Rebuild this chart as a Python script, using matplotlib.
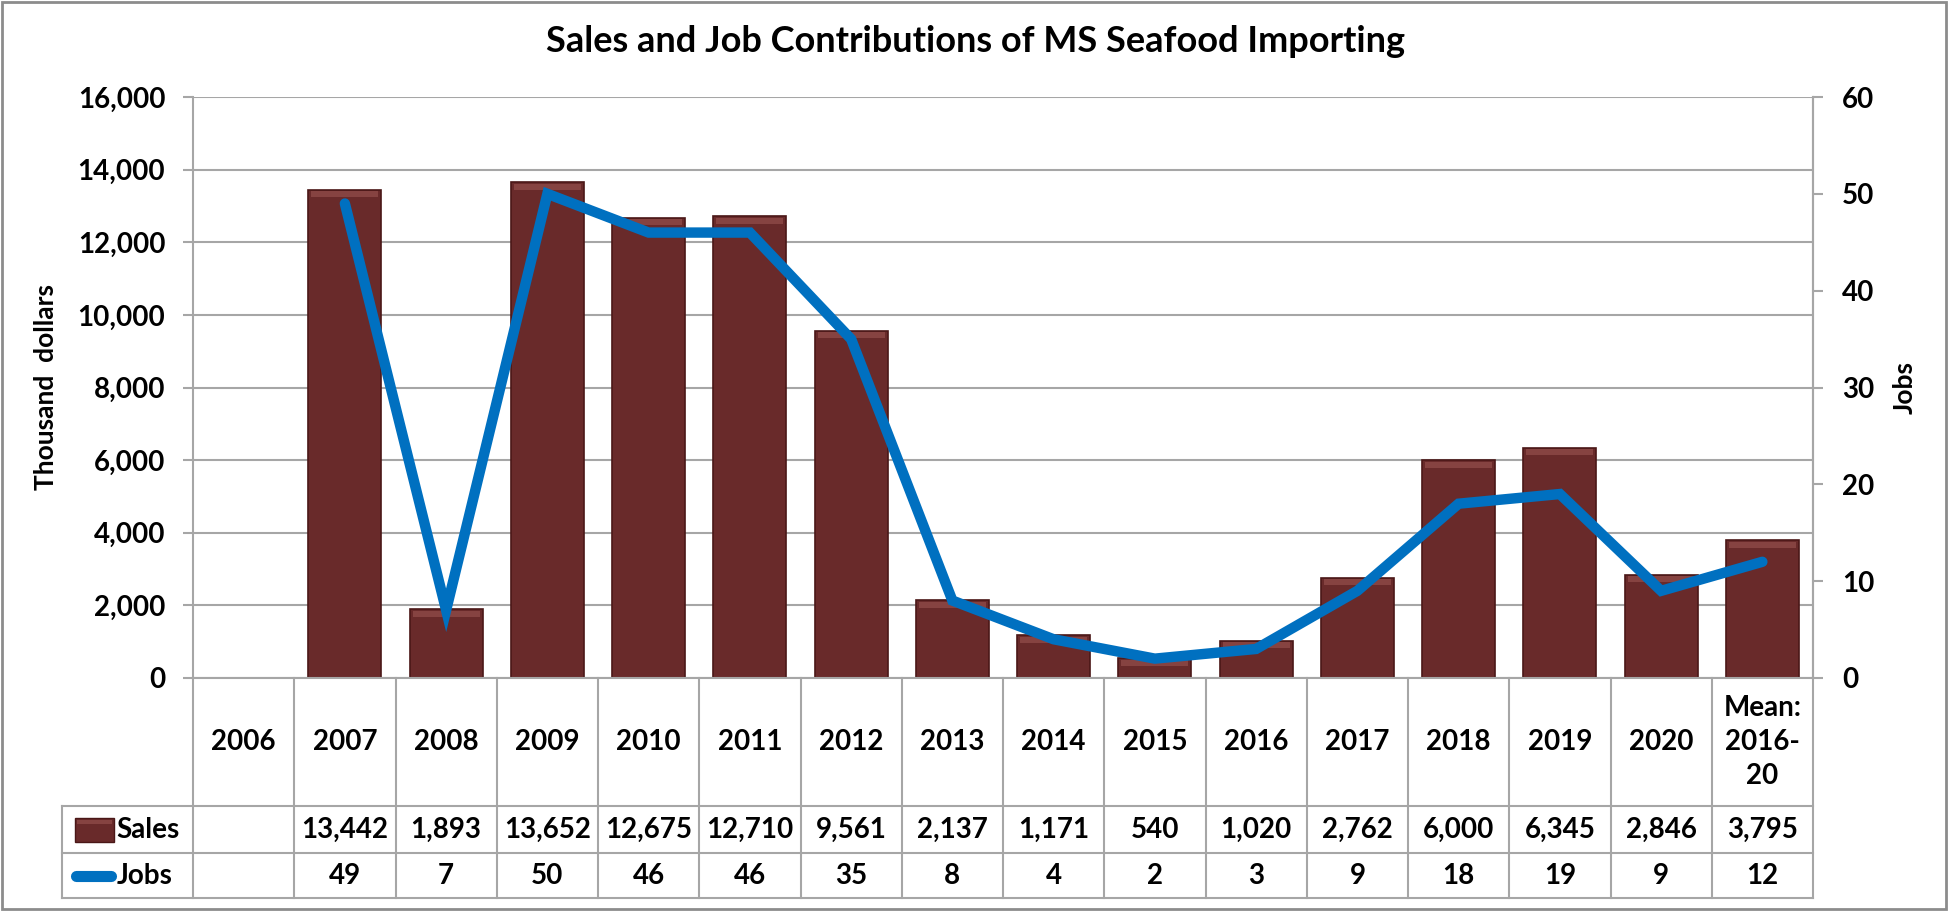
import numpy as np
import matplotlib
matplotlib.use("Agg")
import matplotlib.pyplot as plt
from matplotlib.patches import Rectangle
from matplotlib.lines import Line2D

plt.rcParams['font.family'] = ['Lato', 'DejaVu Sans']
plt.rcParams['font.weight'] = 'bold'

categories = ['2006', '2007', '2008', '2009', '2010', '2011', '2012', '2013', '2014',
              '2015', '2016', '2017', '2018', '2019', '2020', 'Mean:\n2016-\n20']
sales = [np.nan, 13442, 1893, 13652, 12675, 12710, 9561, 2137, 1171, 540, 1020,
         2762, 6000, 6345, 2846, 3795]
jobs = [np.nan, 49, 7, 50, 46, 46, 35, 8, 4, 2, 3, 9, 18, 19, 9, 12]
sales_ticks = list(range(0, 16001, 2000))
jobs_ticks = list(range(0, 61, 10))

title = 'Sales and Job Contributions of MS Seafood Importing'
bar_color = '#692a2a'
bar_edge = '#4a1717'
bevel_color = '#864341'
line_color = '#0070C0'
grid_color = '#a6a6a6'
FS = 20

W, H = 1950, 911
fig = plt.figure(figsize=(W / 100, H / 100), dpi=100)
L, R, T, B = 193, 1813, 97, 678
ax = fig.add_axes([L / W, 1 - B / H, (R - L) / W, (B - T) / H])
ax2 = ax.twinx()

x = np.arange(len(categories))
ymax = 16000
ax.bar(x, sales, width=0.72, color=bar_color, edgecolor=bar_edge, linewidth=1.2, zorder=2)
# bevel highlight at the top of each bar (height given in pixels)
bevel = 6 / (B - T) * ymax
sales_arr = np.array(sales, dtype=float)
ax.bar(x, bevel, bottom=sales_arr - bevel - 1.5 / (B - T) * ymax, width=0.66,
       color=bevel_color, linewidth=0, zorder=2.5)
ax.set_xlim(-0.5, len(categories) - 0.5)
ax.set_ylim(0, ymax)
ax.set_yticks(sales_ticks)
ax.set_yticklabels([f'{v:,}' for v in sales_ticks], fontsize=FS, fontweight='bold')
ax.yaxis.grid(True, color=grid_color, linewidth=1.5, zorder=0)
ax.set_axisbelow(True)
ax.set_xticks([])
for s in ['top', 'bottom']:
    ax.spines[s].set_visible(False)
for s in ['left', 'right']:
    ax.spines[s].set_color(grid_color)
    ax.spines[s].set_linewidth(1.5)
ax.tick_params(axis='y', length=7, width=1.5, color=grid_color, pad=13)

ax2.plot(x, jobs, color=line_color, linewidth=7.5, solid_capstyle='round',
         solid_joinstyle='miter', zorder=3)
ax2.set_ylim(0, 60)
ax2.set_yticks(jobs_ticks)
ax2.set_yticklabels([str(v) for v in jobs_ticks], fontsize=FS, fontweight='bold')
ax2.tick_params(axis='y', length=7, width=1.5, color=grid_color, pad=14)
for s in ['top', 'bottom', 'left']:
    ax2.spines[s].set_visible(False)
ax2.spines['right'].set_color(grid_color)
ax2.spines['right'].set_linewidth(1.5)

fig.text(46 / W, 1 - 387 / H, 'Thousand  dollars', rotation=90, ha='center', va='center',
         fontsize=19, fontweight='bold')
fig.text(1905 / W, 1 - 387 / H, 'Jobs', rotation=90, ha='center', va='center',
         fontsize=19, fontweight='bold')

# data table below the axes
tr = ax.get_xaxis_transform()
ah = B - T
y_cat = (B - 806) / ah
y_sal = (B - 853) / ah
y_job = (B - 898) / ah


def fx(px):
    return (px - L) / (R - L)


x_leg = fx(62)
lk = dict(color=grid_color, linewidth=1.5, clip_on=False)
for xb in np.arange(len(categories) + 1) - 0.5:
    ax.add_line(Line2D([xb, xb], [0, y_job], transform=tr, **lk))
for yb in [y_cat, y_sal, y_job]:
    ax.add_line(Line2D([x_leg, 1], [yb, yb], transform=ax.transAxes, **lk))
ax.add_line(Line2D([x_leg, x_leg], [y_cat, y_job], transform=ax.transAxes, **lk))
ax.add_line(Line2D([0, 1], [0, 0], transform=ax.transAxes, **lk))

for xi, c, s, j in zip(x, categories, sales, jobs):
    ax.text(xi, y_cat / 2, c, transform=tr, ha='center', va='center', fontsize=FS,
            fontweight='bold', linespacing=1.4)
    if not np.isnan(s):
        ax.text(xi, (y_cat + y_sal) / 2, f'{int(s):,}', transform=tr, ha='center',
                va='center', fontsize=FS, fontweight='bold')
    if not np.isnan(j):
        ax.text(xi, (y_sal + y_job) / 2, f'{int(j)}', transform=tr, ha='center',
                va='center', fontsize=FS, fontweight='bold')

# legend keys inside the table
ys = (y_cat + y_sal) / 2
yj = (y_sal + y_job) / 2
ax.add_patch(Rectangle((fx(75), ys - 12 / ah), fx(114) - fx(75), 24 / ah,
                       transform=ax.transAxes, facecolor=bar_color, edgecolor=bar_edge,
                       clip_on=False))
ax.add_patch(Rectangle((fx(77), ys + 6 / ah), fx(112) - fx(77), 4 / ah,
                       transform=ax.transAxes, facecolor=bevel_color, linewidth=0,
                       clip_on=False))
ax.text(fx(116), ys, 'Sales', transform=ax.transAxes, ha='left', va='center',
        fontsize=FS, fontweight='bold')
ax.add_line(Line2D([fx(76), fx(111)], [yj, yj], transform=ax.transAxes, color=line_color,
                   linewidth=8, solid_capstyle='round', clip_on=False))
ax.text(fx(117), yj, 'Jobs', transform=ax.transAxes, ha='left', va='center',
        fontsize=FS, fontweight='bold')

fig.text(0.5, 1 - 41 / H, title, ha='center', va='center', fontsize=26, fontweight='bold')
fig.add_artist(Rectangle((0.001, 0.002), 0.997, 0.996, transform=fig.transFigure,
                         fill=False, edgecolor='#8c8c8c', linewidth=2))

fig.savefig('out.png', dpi=100)
